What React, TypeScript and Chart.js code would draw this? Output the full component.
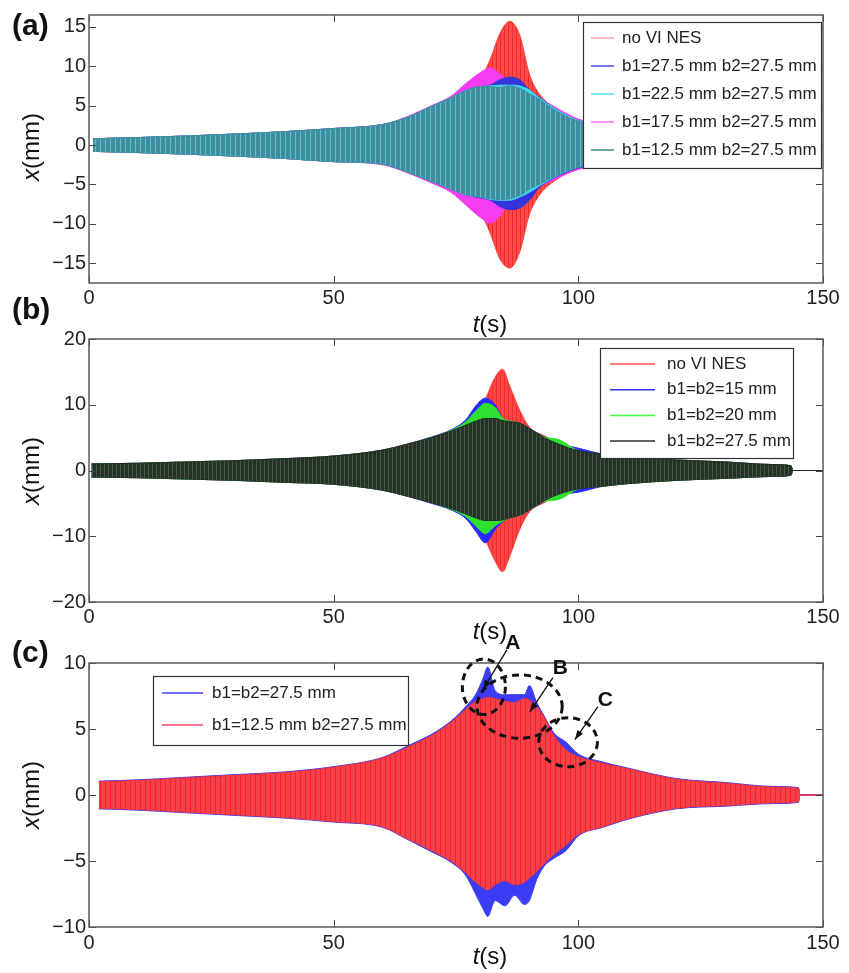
import React, { useEffect, useRef } from "react";
import { Chart, registerables } from "chart.js";

Chart.register(...registerables);

const FONT = "'Liberation Sans', Arial, Helvetica, sans-serif";

// ---------------- shared ----------------
const timeTicks = [0, 50, 100, 150];

// ---------------- panel (a) ----------------
const yTicksA = [-15, -10, -5, 0, 5, 10, 15];
const labelsA = ["no VI NES", "b1=27.5 mm b2=27.5 mm", "b1=22.5 mm b2=27.5 mm", "b1=17.5 mm b2=27.5 mm", "b1=12.5 mm b2=27.5 mm"];
const tA = [0.8, 10, 20, 30, 40, 50, 60, 65, 70, 74, 77, 80, 82, 84, 86, 88, 90, 92, 95, 100, 110, 120, 130, 140, 145];
const aRedUp = [0.8, 0.95, 1.15, 1.4, 1.7, 2.1, 2.6, 3.5, 4.9, 6.0, 7.2, 8.4, 10.9, 14.2, 15.7, 14.0, 9.0, 6.5, 4.8, 3.2, 2.0, 1.4, 1.0, 0.8, 0.6];
const aRedLo = [-0.8, -0.95, -1.15, -1.4, -1.7, -2.1, -2.4, -3.4, -4.6, -5.6, -7.0, -8.6, -11.2, -14.5, -15.6, -13.6, -8.8, -6.4, -4.6, -3.0, -2.0, -1.4, -1.0, -0.8, -0.6];
const aB275Up = [0.8, 0.95, 1.15, 1.4, 1.7, 2.1, 2.6, 3.5, 4.9, 6.0, 6.9, 7.4, 7.6, 8.3, 8.6, 8.3, 7.0, 6.1, 4.7, 3.1, 2.0, 1.4, 1.0, 0.8, 0.6];
const aB275Lo = [-0.8, -0.95, -1.15, -1.4, -1.7, -2.1, -2.4, -3.4, -4.6, -5.6, -6.3, -6.7, -7.0, -7.8, -8.2, -8.0, -7.0, -5.4, -4.2, -2.9, -2.0, -1.4, -1.0, -0.8, -0.6];
const aB225Up = [0.8, 0.95, 1.15, 1.4, 1.7, 2.1, 2.6, 3.5, 4.9, 6.0, 6.9, 7.4, 7.5, 7.6, 7.6, 7.5, 7.0, 6.0, 4.7, 3.1, 2.0, 1.4, 1.0, 0.8, 0.6];
const aB225Lo = [-0.8, -0.95, -1.15, -1.4, -1.7, -2.1, -2.4, -3.4, -4.6, -5.6, -6.3, -6.6, -6.9, -7.0, -7.0, -6.6, -6.0, -5.2, -4.1, -2.8, -2.0, -1.4, -1.0, -0.8, -0.6];
const aB175Up = [0.8, 0.95, 1.15, 1.4, 1.7, 2.1, 2.6, 3.6, 5.0, 6.2, 7.8, 9.2, 9.8, 9.0, 8.0, 7.4, 6.8, 6.0, 4.9, 3.3, 2.1, 1.5, 1.0, 0.8, 0.6];
const aB175Lo = [-0.8, -0.95, -1.15, -1.4, -1.7, -2.1, -2.5, -3.5, -4.8, -6.0, -7.6, -9.2, -9.9, -9.0, -7.2, -6.6, -6.0, -5.3, -4.4, -3.1, -2.0, -1.4, -1.0, -0.8, -0.6];
const aB125Up = [0.8, 0.95, 1.15, 1.4, 1.7, 2.1, 2.6, 3.5, 4.9, 6.0, 6.9, 7.4, 7.4, 7.3, 7.5, 7.2, 6.5, 5.8, 4.5, 3.0, 2.0, 1.4, 1.0, 0.8, 0.6];
const aB125Lo = [-0.8, -0.95, -1.15, -1.4, -1.7, -2.1, -2.4, -3.4, -4.6, -5.6, -6.3, -6.6, -6.8, -6.9, -6.8, -6.4, -5.6, -5.0, -4.0, -2.8, -2.0, -1.4, -1.0, -0.8, -0.6];

// ---------------- panel (b) ----------------
const yTicksB = [-20, -10, 0, 10, 20];
const labelsB = ["no VI NES", "b1=b2=15 mm", "b1=b2=20 mm", "b1=b2=27.5 mm"];
const tB = [0.5, 10, 20, 30, 40, 50, 60, 65, 70, 74, 77, 79, 81, 83, 84.5, 86, 88, 90, 93, 96, 100, 105, 110, 120, 130, 140, 143.5, 143.8, 150];
const bRedUp = [1.0, 1.1, 1.3, 1.5, 1.8, 2.2, 3.1, 4.0, 5.0, 6.0, 6.9, 7.4, 10.8, 14.2, 15.4, 12.8, 9.2, 6.6, 5.3, 4.2, 3.1, 2.5, 2.1, 1.6, 1.3, 0.9, 0.7, 0, 0];
const bRedLo = [-1.0, -1.1, -1.3, -1.5, -1.8, -2.1, -3.0, -3.9, -4.9, -5.8, -6.6, -7.2, -10.5, -13.8, -15.4, -13.0, -9.0, -6.3, -4.9, -3.7, -2.9, -2.4, -2.0, -1.5, -1.2, -0.9, -0.7, 0, 0];
const b15Up = [1.0, 1.1, 1.3, 1.5, 1.8, 2.2, 3.1, 4.0, 5.1, 6.2, 7.7, 9.8, 11.0, 10.0, 8.0, 7.5, 7.2, 6.4, 5.1, 4.1, 3.4, 2.5, 2.1, 1.6, 1.3, 0.9, 0.7, 0, 0];
const b15Lo = [-1.0, -1.1, -1.3, -1.5, -1.8, -2.1, -3.0, -3.9, -5.0, -6.0, -7.3, -9.2, -11.0, -9.0, -7.8, -7.2, -6.8, -6.0, -4.7, -3.7, -3.3, -2.4, -2.0, -1.5, -1.2, -0.9, -0.7, 0, 0];
const b20Up = [1.0, 1.1, 1.3, 1.5, 1.8, 2.2, 3.1, 4.0, 5.0, 6.1, 7.4, 9.0, 10.2, 9.6, 8.0, 7.5, 7.2, 6.4, 5.1, 4.7, 3.0, 2.5, 2.1, 1.6, 1.3, 0.9, 0.7, 0, 0];
const b20Lo = [-1.0, -1.1, -1.3, -1.5, -1.8, -2.1, -3.0, -3.9, -4.9, -5.9, -7.0, -8.4, -9.6, -8.4, -7.7, -7.2, -6.8, -6.0, -4.7, -4.4, -2.8, -2.4, -2.0, -1.5, -1.2, -0.9, -0.7, 0, 0];
const b275Up = [1.0, 1.1, 1.3, 1.5, 1.8, 2.2, 3.1, 4.0, 5.0, 6.0, 6.9, 7.5, 7.9, 7.9, 7.6, 7.4, 7.2, 6.4, 5.0, 4.0, 3.0, 2.5, 2.1, 1.6, 1.3, 0.9, 0.7, 0, 0];
const b275Lo = [-1.0, -1.1, -1.3, -1.5, -1.8, -2.1, -3.0, -3.9, -4.9, -5.8, -6.6, -7.2, -7.6, -7.6, -7.5, -7.2, -6.8, -6.0, -4.6, -3.6, -2.8, -2.4, -2.0, -1.5, -1.2, -0.9, -0.7, 0, 0];

// ---------------- panel (c) ----------------
const yTicksC = [-10, -5, 0, 5, 10];
const labelsC = ["b1=b2=27.5 mm", "b1=12.5 mm b2=27.5 mm"];
const tC = [2, 10, 20, 30, 40, 50, 60, 65, 70, 74, 77, 79, 80.5, 81.5, 83, 85, 87, 89, 90, 91.5, 93, 95, 97.5, 100, 105, 110, 120, 130, 140, 145, 145.3, 150];
const cB275Up = [1.05, 1.15, 1.35, 1.55, 1.75, 2.15, 2.85, 3.7, 4.6, 5.6, 6.7, 7.6, 8.8, 9.7, 7.9, 7.6, 7.6, 7.6, 8.3, 7.0, 6.0, 4.7, 4.0, 3.1, 2.5, 2.05, 1.25, 0.95, 0.65, 0.55, 0, 0];
const cB275Lo = [-1.05, -1.15, -1.35, -1.55, -1.75, -2.05, -2.45, -3.35, -4.3, -5.1, -6.1, -7.5, -8.6, -9.2, -8.0, -8.4, -7.6, -8.3, -8.0, -6.4, -5.4, -4.8, -4.2, -3.1, -2.45, -1.85, -1.05, -0.85, -0.65, -0.55, 0, 0];
const cB125Up = [1.0, 1.1, 1.3, 1.5, 1.7, 2.1, 2.8, 3.6, 4.5, 5.5, 6.5, 7.1, 7.3, 7.4, 7.3, 7.1, 7.0, 7.3, 7.2, 6.7, 5.9, 4.5, 3.4, 2.9, 2.4, 2.0, 1.2, 0.9, 0.6, 0.5, 0, 0];
const cB125Lo = [-1.0, -1.1, -1.3, -1.5, -1.7, -2.0, -2.4, -3.3, -4.2, -5.0, -5.9, -6.6, -7.0, -7.2, -6.8, -6.5, -6.8, -6.6, -6.3, -5.8, -5.2, -4.5, -3.8, -3.0, -2.4, -1.8, -1.0, -0.8, -0.6, -0.5, 0, 0];
// annotations (time s, displacement mm)
const noteLetters = ["A", "B", "C"];
const noteCircles = [
  { t: 80.7, v: 8.2, rt: 4.4, rv: 2.1 },
  { t: 88.0, v: 6.7, rt: 8.7, rv: 2.4 },
  { t: 97.9, v: 4.0, rt: 6.0, rv: 1.86 },
];
const noteLabelPos = [
  { t: 86.6, v: 11.5 },
  { t: 96.3, v: 9.6 },
  { t: 105.5, v: 7.2 },
];
const noteArrows = [
  { t0: 85.4, v0: 11.0, t1: 80.5, v1: 8.0 },
  { t0: 94.8, v0: 8.9, t1: 90.1, v1: 6.3 },
  { t0: 104.0, v0: 6.7, t1: 99.3, v1: 4.2 },
];

// ---------------- helpers ----------------
function stripes(ctx: CanvasRenderingContext2D, base: string, stripe: string, period: number) {
  const c = document.createElement("canvas");
  c.width = period;
  c.height = 4;
  const g = c.getContext("2d")!;
  g.fillStyle = base;
  g.fillRect(0, 0, period, 4);
  g.fillStyle = stripe;
  g.fillRect(0, 0, 1, 4);
  return ctx.createPattern(c, "repeat") as any;
}

function band(t: number[], up: number[], lo: number[], fill: any, line: string, label: string) {
  const common = { borderColor: line, borderWidth: 1, pointRadius: 0, cubicInterpolationMode: "monotone" as const };
  return [
    { ...common, label, data: t.map((x, i) => ({ x, y: up[i] })), backgroundColor: fill, fill: "+1" },
    { ...common, label: label + " ", data: t.map((x, i) => ({ x, y: lo[i] })), fill: false },
  ];
}

const fmt = (v: number) => (v < 0 ? "\u2212" + Math.abs(v) : String(v));

function drawMixed(ctx: CanvasRenderingContext2D, parts: [string, boolean][], cx: number, cy: number, rot: number) {
  ctx.save();
  ctx.translate(cx, cy);
  ctx.rotate(rot);
  const fonts = parts.map(([, it]) => `${it ? "italic " : ""}24px ${FONT}`);
  let total = 0;
  const ws = parts.map(([s], i) => {
    ctx.font = fonts[i];
    const w = ctx.measureText(s).width;
    total += w;
    return w;
  });
  let x = -total / 2;
  ctx.textBaseline = "middle";
  ctx.textAlign = "left";
  ctx.fillStyle = "#111";
  parts.forEach(([s], i) => {
    ctx.font = fonts[i];
    ctx.fillText(s, x, 0);
    x += ws[i];
  });
  ctx.restore();
}

type Legend = { x: number; y: number; w: number; h: number; row0: number; step: number; lx0: number; lx1: number; tx: number; labels: string[]; colors: string[] };

type Spec = {
  top: number;
  height: number;
  padTop: number;
  xH: number;
  xPad: number;
  yMin: number;
  yMax: number;
  yTicks: number[];
  label: string;
  labelBase: number;
  yTitleY: number;
  xTitleY: number;
  legend: Legend;
  notes: boolean;
  datasets: (ctx: CanvasRenderingContext2D) => any[];
};

function decor(p: Spec) {
  return {
    id: "decor",
    afterDraw(chart: any) {
      const { ctx, chartArea: ca, scales } = chart;
      const xs = scales.x;
      const ys = scales.y;
      const off = p.top;
      ctx.save();
      // inner tick marks on all four sides
      ctx.strokeStyle = "#444";
      ctx.lineWidth = 1;
      ctx.beginPath();
      for (const v of timeTicks) {
        const px = Math.round(xs.getPixelForValue(v)) + 0.5;
        ctx.moveTo(px, ca.bottom);
        ctx.lineTo(px, ca.bottom - 7);
        ctx.moveTo(px, ca.top);
        ctx.lineTo(px, ca.top + 7);
      }
      for (const v of p.yTicks) {
        const py = Math.round(ys.getPixelForValue(v)) + 0.5;
        ctx.moveTo(ca.left, py);
        ctx.lineTo(ca.left + 7, py);
        ctx.moveTo(ca.right, py);
        ctx.lineTo(ca.right - 7, py);
      }
      ctx.stroke();
      // box
      ctx.strokeStyle = "#5a5a5a";
      ctx.lineWidth = 1.5;
      ctx.strokeRect(ca.left, ca.top, ca.right - ca.left, ca.bottom - ca.top);

      // annotations
      if (p.notes) {
        ctx.strokeStyle = "#111";
        ctx.fillStyle = "#111";
        noteCircles.forEach((c) => {
          const cx = xs.getPixelForValue(c.t);
          const cy = ys.getPixelForValue(c.v);
          const rx = Math.abs(xs.getPixelForValue(c.t + c.rt) - cx);
          const ry = Math.abs(ys.getPixelForValue(c.v + c.rv) - cy);
          ctx.setLineDash([7, 5]);
          ctx.lineWidth = 3;
          ctx.beginPath();
          ctx.ellipse(cx, cy, rx, ry, 0, 0, Math.PI * 2);
          ctx.stroke();
        });
        ctx.setLineDash([]);
        noteArrows.forEach((a) => {
          const x0 = xs.getPixelForValue(a.t0);
          const y0 = ys.getPixelForValue(a.v0);
          const x1 = xs.getPixelForValue(a.t1);
          const y1 = ys.getPixelForValue(a.v1);
          ctx.lineWidth = 1.3;
          ctx.beginPath();
          ctx.moveTo(x0, y0);
          ctx.lineTo(x1, y1);
          ctx.stroke();
          const ang = Math.atan2(y1 - y0, x1 - x0);
          const s = 10;
          ctx.beginPath();
          ctx.moveTo(x1, y1);
          ctx.lineTo(x1 - s * Math.cos(ang - 0.35), y1 - s * Math.sin(ang - 0.35));
          ctx.lineTo(x1 - s * Math.cos(ang + 0.35), y1 - s * Math.sin(ang + 0.35));
          ctx.closePath();
          ctx.fill();
        });
        ctx.font = `bold 21px ${FONT}`;
        ctx.textAlign = "center";
        ctx.textBaseline = "middle";
        noteLabelPos.forEach((l, i) => {
          ctx.fillText(noteLetters[i], xs.getPixelForValue(l.t), ys.getPixelForValue(l.v));
        });
      }

      // legend
      const L = p.legend;
      ctx.fillStyle = "#fff";
      ctx.fillRect(L.x, L.y - off, L.w, L.h);
      ctx.strokeStyle = "#333";
      ctx.lineWidth = 1.2;
      ctx.strokeRect(L.x + 0.5, L.y - off + 0.5, L.w, L.h);
      L.labels.forEach((lab, i) => {
        const y = L.row0 + i * L.step - off;
        ctx.strokeStyle = L.colors[i];
        ctx.lineWidth = 1.5;
        ctx.beginPath();
        ctx.moveTo(L.lx0, y);
        ctx.lineTo(L.lx1, y);
        ctx.stroke();
        ctx.fillStyle = "#222";
        ctx.font = `17px ${FONT}`;
        ctx.textAlign = "left";
        ctx.textBaseline = "middle";
        ctx.fillText(lab, L.tx, y);
      });

      // panel label
      ctx.fillStyle = "#111";
      ctx.font = `bold 30px ${FONT}`;
      ctx.textAlign = "left";
      ctx.textBaseline = "alphabetic";
      ctx.fillText(p.label, 12, p.labelBase - off);

      // axis titles
      drawMixed(ctx, [["x", true], ["(mm)", false]], 32, p.yTitleY - off, -Math.PI / 2);
      drawMixed(ctx, [["t", true], ["(s)", false]], 490, p.xTitleY - off, 0);
      ctx.restore();
    },
  };
}

function makeConfig(p: Spec, ctx: CanvasRenderingContext2D): any {
  return {
    type: "line",
    data: { datasets: p.datasets(ctx) },
    options: {
      animation: false,
      responsive: false,
      maintainAspectRatio: false,
      events: [],
      layout: { padding: { top: p.padTop, right: 26, left: 0, bottom: 0 } },
      plugins: { legend: { display: false }, tooltip: { enabled: false } },
      scales: {
        x: {
          type: "linear",
          min: 0,
          max: 150,
          grid: { display: false, drawTicks: false },
          border: { display: false },
          ticks: { font: { family: FONT, size: 20 }, color: "#222", padding: p.xPad, maxRotation: 0, autoSkip: false, callback: (v: number) => fmt(v) },
          afterBuildTicks: (s: any) => {
            s.ticks = timeTicks.map((v) => ({ value: v }));
          },
          afterFit: (s: any) => {
            s.height = p.xH;
          },
        },
        y: {
          type: "linear",
          min: p.yMin,
          max: p.yMax,
          grid: { display: false, drawTicks: false },
          border: { display: false },
          ticks: { font: { family: FONT, size: 20 }, color: "#222", padding: 3, autoSkip: false, callback: (v: number) => fmt(v) },
          afterBuildTicks: (s: any) => {
            s.ticks = p.yTicks.map((v) => ({ value: v }));
          },
          afterFit: (s: any) => {
            s.width = 89;
          },
        },
      },
    },
    plugins: [decor(p)],
  };
}

const specA: Spec = {
  top: 0,
  height: 340,
  padTop: 15,
  xH: 57,
  xPad: 3,
  yMin: -17.5,
  yMax: 16.5,
  yTicks: yTicksA,
  label: "(a)",
  labelBase: 35,
  yTitleY: 147,
  xTitleY: 325,
  legend: { x: 583, y: 22, w: 238, h: 146, row0: 38, step: 28, lx0: 591, lx1: 614, tx: 622, labels: labelsA, colors: ["#f4a0a8", "#4848e8", "#50e0f0", "#ff70ff", "#3a8a80"] },
  notes: false,
  datasets: (ctx) => [
    ...band(tA, aB125Up, aB125Lo, stripes(ctx, "#3f8ea0", "#66bccb", 5), "#3a8a98", labelsA[4]),
    ...band(tA, aB225Up, aB225Lo, "#40d8ea", "#40d8ea", labelsA[2]),
    ...band(tA, aB275Up, aB275Lo, "#3434dc", "#3434dc", labelsA[1]),
    ...band(tA, aB175Up, aB175Lo, "#f53cf0", "#f53cf0", labelsA[3]),
    ...band(tA, aRedUp, aRedLo, stripes(ctx, "#ff4848", "#e82c2c", 4), "#ff4040", labelsA[0]),
  ],
};

const specB: Spec = {
  top: 295,
  height: 350,
  padTop: 44,
  xH: 43,
  xPad: 3,
  yMin: -20,
  yMax: 20,
  yTicks: yTicksB,
  label: "(b)",
  labelBase: 319,
  yTitleY: 471,
  xTitleY: 632,
  legend: { x: 600, y: 348, w: 193, h: 110, row0: 364, step: 25.7, lx0: 610, lx1: 655, tx: 667, labels: labelsB, colors: ["#ff5050", "#3030ff", "#40ff40", "#303030"] },
  notes: false,
  datasets: (ctx) => [
    ...band(tB, b275Up, b275Lo, stripes(ctx, "#253225", "#44584a", 4), "#1e261e", labelsB[3]),
    ...band(tB, b20Up, b20Lo, "#30e030", "#30e030", labelsB[2]),
    ...band(tB, b15Up, b15Lo, "#2a2aff", "#2a2aff", labelsB[1]),
    ...band(tB, bRedUp, bRedLo, stripes(ctx, "#ff4444", "#e83030", 4), "#ff4040", labelsB[0]),
  ],
};

const specC: Spec = {
  top: 630,
  height: 343,
  padTop: 33,
  xH: 46,
  xPad: 4,
  yMin: -10,
  yMax: 10,
  yTicks: yTicksC,
  label: "(c)",
  labelBase: 662,
  yTitleY: 795,
  xTitleY: 957,
  legend: { x: 153, y: 676, w: 255, h: 69, row0: 693, step: 32, lx0: 162, lx1: 203, tx: 212, labels: labelsC, colors: ["#4040ff", "#ff4060"] },
  notes: true,
  datasets: (ctx) => [
    ...band(tC, cB125Up, cB125Lo, stripes(ctx, "#f4424c", "#ff1e1e", 5), "#f03040", labelsC[1]),
    ...band(tC, cB275Up, cB275Lo, "#3c3cf5", "#3c3cf5", labelsC[0]),
  ],
};

function Panel({ spec }: { spec: Spec }) {
  const ref = useRef<HTMLCanvasElement>(null);
  useEffect(() => {
    const canvas = ref.current!;
    const ctx = canvas.getContext("2d")!;
    const chart = new Chart(canvas, makeConfig(spec, ctx));
    return () => chart.destroy();
  }, [spec]);
  return (
    <canvas
      ref={ref}
      width={849}
      height={spec.height}
      style={{ position: "absolute", left: 0, top: spec.top, width: 849, height: spec.height, display: "block" }}
    />
  );
}

export default function App() {
  return (
    <div style={{ position: "absolute", left: 0, top: 0, width: 849, height: 973, background: "#fff", overflow: "hidden" }}>
      <Panel spec={specC} />
      <Panel spec={specB} />
      <Panel spec={specA} />
    </div>
  );
}
